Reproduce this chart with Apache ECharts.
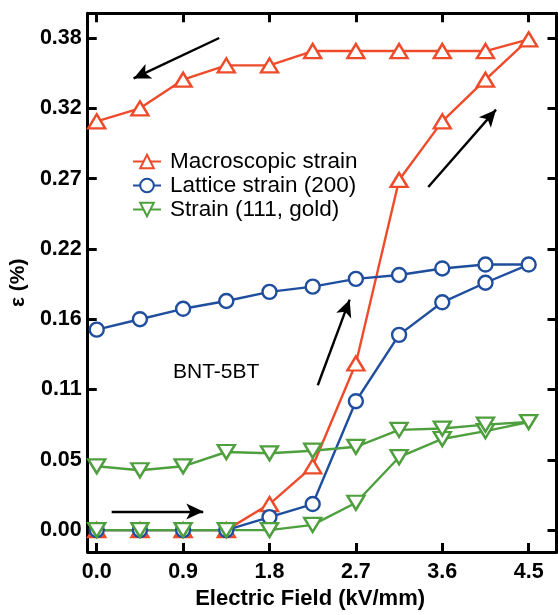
<!DOCTYPE html>
<html>
<head>
<meta charset="utf-8">
<script src="https://cdn.jsdelivr.net/npm/echarts@6/dist/echarts.min.js"></script>
<style>
html,body{margin:0;padding:0;background:#fff;}
#chart{width:558px;height:615px;}
</style>
</head>
<body>
<div id="chart"></div>
<script>
// ---- data ----
const fieldUp = [0, 0.45, 0.9, 1.35, 1.8, 2.25, 2.7, 3.15, 3.6, 4.05, 4.5];
const fieldDown = [4.05, 3.6, 3.15, 2.7, 2.25, 1.8, 1.35, 0.9, 0.45, 0];

const macroUp = [0, 0, 0, 0, 0.020, 0.049, 0.128, 0.269, 0.314, 0.346, 0.377];
const macroDown = [0.368, 0.368, 0.368, 0.368, 0.368, 0.357, 0.357, 0.346, 0.324, 0.314];

const latticeUp = [0, 0, 0, 0, 0.010, 0.020, 0.099, 0.150, 0.175, 0.190, 0.204];
const latticeDown = [0.204, 0.201, 0.196, 0.193, 0.187, 0.183, 0.176, 0.170, 0.162, 0.154];

const goldUp = [0, 0, 0, 0, 0, 0.004, 0.021, 0.056, 0.070, 0.076, 0.083];
const goldDown = [0.081, 0.078, 0.077, 0.064, 0.061, 0.059, 0.060, 0.049, 0.046, 0.049];

const seriesNames = ['Macroscopic strain', 'Lattice strain (200)', 'Strain (111, gold)'];

const xTickValues = [0, 0.9, 1.8, 2.7, 3.6, 4.5];
const xTickLabels = ['0.0', '0.9', '1.8', '2.7', '3.6', '4.5'];
const yTickValues = [0, 0.054, 0.108, 0.162, 0.216, 0.27, 0.324, 0.378];
const yTickLabels = ['0.00', '0.05', '0.11', '0.16', '0.22', '0.27', '0.32', '0.38'];

// arrows: [start, end] in data coordinates
const arrows = [
  [[1.276, 0.378], [0.384, 0.347]],
  [[3.454, 0.2636], [4.16, 0.323]],
  [[2.303, 0.1113], [2.635, 0.177]],
  [[0.156, 0.0142], [1.11, 0.0142]]
];
const sampleLabel = 'BNT-5BT';

// ---- build ----
function loop(up, down) {
  const pts = fieldUp.map((x, i) => [x, up[i]]);
  fieldDown.forEach((x, i) => pts.push([x, down[i]]));
  return pts;
}
const colors = ['#EE4B2B', '#1F4E9E', '#4E9F3D'];
const FONT = '"Liberation Sans", Arial, Helvetica, sans-serif';

function mkSeries(name, data, color, symbol, size, rotate) {
  return {
    name: name,
    type: 'line',
    data: data,
    symbol: symbol,
    symbolSize: size,
    symbolRotate: rotate || 0,
    showAllSymbol: true,
    color: color,
    lineStyle: { color: color, width: 2.4 },
    itemStyle: { color: '#fff', borderColor: color, borderWidth: 2.4 },
    emphasis: { disabled: true },
    animation: false,
    z: 3
  };
}

const xMin = -0.0934, xMax = 4.79, yMin = -0.0169, yMax = 0.397;

const tickStyle = { show: true, inside: true, length: 9, lineStyle: { color: '#000', width: 3 } };
const lineStyle = { show: true, onZero: false, lineStyle: { color: '#000', width: 3 } };

const chart = echarts.init(document.getElementById('chart'), null, { renderer: 'canvas' });
chart.setOption({
  backgroundColor: '#fff',
  animation: false,
  grid: { left: 86, right: 1.5, top: 13.3, bottom: 56, containLabel: false },
  legend: {
    data: seriesNames,
    orient: 'vertical',
    left: 132,
    top: 150,
    padding: 0,
    itemGap: 1,
    itemWidth: 28,
    itemHeight: 17,
    textStyle: { fontSize: 22.5, color: '#000', fontFamily: FONT, padding: [0, 0, 0, 4] },
    selectedMode: false
  },
  xAxis: [{
    type: 'value', position: 'bottom', min: xMin, max: xMax,
    name: 'Electric Field (kV/mm)', nameLocation: 'middle', nameGap: 35,
    nameTextStyle: { fontSize: 22, fontWeight: 'bold', color: '#000', fontFamily: FONT, padding: [0, 24, 0, 0] },
    axisLine: lineStyle,
    axisTick: Object.assign({ customValues: xTickValues }, tickStyle),
    axisLabel: {
      customValues: xTickValues, margin: 9,
      fontSize: 21.5, fontWeight: 'bold', color: '#000', fontFamily: FONT,
      formatter: v => xTickLabels[xTickValues.findIndex(t => Math.abs(t - v) < 1e-6)]
    },
    splitLine: { show: false }
  }, {
    type: 'value', position: 'top', min: xMin, max: xMax,
    axisLine: lineStyle,
    axisTick: Object.assign({ customValues: xTickValues }, tickStyle),
    axisLabel: { show: false },
    splitLine: { show: false }
  }],
  yAxis: [{
    type: 'value', position: 'left', min: yMin, max: yMax,
    name: 'ε (%)', nameLocation: 'middle', nameGap: 58, nameRotate: 90,
    nameTextStyle: { fontSize: 21, fontWeight: 'bold', color: '#000', fontFamily: FONT },
    axisLine: lineStyle,
    axisTick: Object.assign({ customValues: yTickValues }, tickStyle),
    axisLabel: {
      customValues: yTickValues, margin: 6,
      fontSize: 21.5, fontWeight: 'bold', color: '#000', fontFamily: FONT,
      formatter: v => yTickLabels[yTickValues.findIndex(t => Math.abs(t - v) < 1e-6)]
    },
    splitLine: { show: false }
  }, {
    type: 'value', position: 'right', min: yMin, max: yMax,
    axisLine: lineStyle,
    axisTick: Object.assign({ customValues: yTickValues }, tickStyle),
    axisLabel: { show: false },
    splitLine: { show: false }
  }],
  series: [
    mkSeries(seriesNames[0], loop(macroUp, macroDown), colors[0], 'triangle', [17, 14]),
    mkSeries(seriesNames[1], loop(latticeUp, latticeDown), colors[1], 'circle', 14),
    mkSeries(seriesNames[2], loop(goldUp, goldDown), colors[2], 'triangle', [17, 14], 180),
    {
      name: 'arrows', type: 'line', data: [], silent: true, animation: false,
      markLine: {
        silent: true, animation: false,
        symbol: ['none', 'arrow'], symbolSize: [12, 17],
        label: { show: false },
        lineStyle: { color: '#000', width: 2.4, type: 'solid' },
        emphasis: { disabled: true },
        data: arrows.map(a => [{ coord: a[0] }, { coord: a[1] }])
      }
    }
  ],
  graphic: [{
    type: 'text', left: 173, top: 362,
    style: { text: sampleLabel, fontSize: 21, fill: '#000', fontFamily: FONT }
  }]
});
</script>
</body>
</html>
